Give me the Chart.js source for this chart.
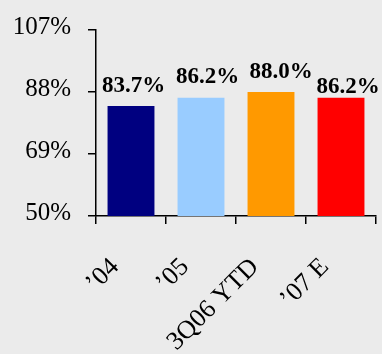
<!DOCTYPE html>
<html>
<head>
<meta charset="utf-8">
<script src="https://cdn.jsdelivr.net/npm/chart.js@4/dist/chart.umd.min.js"></script>
<style>
  html, body { margin: 0; padding: 0; background: #ebebeb; }
  #wrap { width: 382px; height: 354px; }
</style>
</head>
<body>
<div id="wrap"><canvas id="c" width="382" height="354"></canvas></div>
<script>
// ---- data ----
const categories = ['’04', '’05', '3Q06 YTD', '’07 E'];
const values = [83.7, 86.2, 88.0, 86.2];
const valueLabels = ['83.7%', '86.2%', '88.0%', '86.2%'];
const yTickValues = [50, 69, 88, 107];
const barColors = ['#000080', '#99ccff', '#ff9900', '#ff0000'];

// ---- styles ----
const SERIF = '"Liberation Serif", "Times New Roman", Times, serif';
const labelNudgeX = [2.5, 6.5, 10, 7];
const labelGap = [14, 15, 14, 5];

const valueLabelPlugin = {
  id: 'valueLabels',
  afterDatasetsDraw(chart) {
    const ctx = chart.ctx;
    const meta = chart.getDatasetMeta(0);
    ctx.save();
    ctx.font = 'bold 23px ' + SERIF;
    ctx.fillStyle = '#000';
    ctx.textAlign = 'center';
    ctx.textBaseline = 'alphabetic';
    meta.data.forEach((bar, i) => {
      ctx.fillText(valueLabels[i], bar.x + labelNudgeX[i], bar.y - labelGap[i]);
    });
    ctx.restore();
  }
};

function noPad(scale) {
  scale.paddingLeft = 0;
  scale.paddingRight = 0;
  scale.paddingTop = 0;
  scale.paddingBottom = 0;
}

new Chart(document.getElementById('c'), {
  type: 'bar',
  data: {
    labels: categories,
    datasets: [{
      data: values,
      backgroundColor: barColors,
      borderWidth: 0,
      barPercentage: 0.67,
      categoryPercentage: 1.0
    }]
  },
  options: {
    responsive: false,
    devicePixelRatio: 1,
    animation: false,
    layout: { padding: { top: 30, right: 6, left: 0, bottom: 0 } },
    plugins: {
      legend: { display: false },
      tooltip: { enabled: false }
    },
    scales: {
      x: {
        afterFit(scale) { scale.height = 138; noPad(scale); },
        grid: {
          offset: true,
          drawOnChartArea: false,
          drawTicks: true,
          tickLength: 8,
          color: '#000',
          lineWidth: 1.5
        },
        border: { display: true, color: '#000', width: 1.5 },
        ticks: {
          autoSkip: false,
          minRotation: 45,
          maxRotation: 45,
          padding: 28,
          labelOffset: -16,
          color: '#000',
          font: { family: SERIF, size: 26 }
        }
      },
      y: {
        min: 50,
        max: 107,
        afterFit(scale) { scale.width = 96; noPad(scale); },
        afterBuildTicks(scale) { scale.ticks = yTickValues.map(v => ({ value: v })); },
        grid: {
          drawOnChartArea: false,
          drawTicks: true,
          tickLength: 8,
          color: '#000',
          lineWidth: 1.5
        },
        border: { display: true, color: '#000', width: 1.5 },
        ticks: {
          padding: 17,
          labelOffset: -3,
          color: '#000',
          font: { family: SERIF, size: 25 },
          callback: (v) => v + '%'
        }
      }
    }
  },
  plugins: [valueLabelPlugin]
});
</script>
</body>
</html>
